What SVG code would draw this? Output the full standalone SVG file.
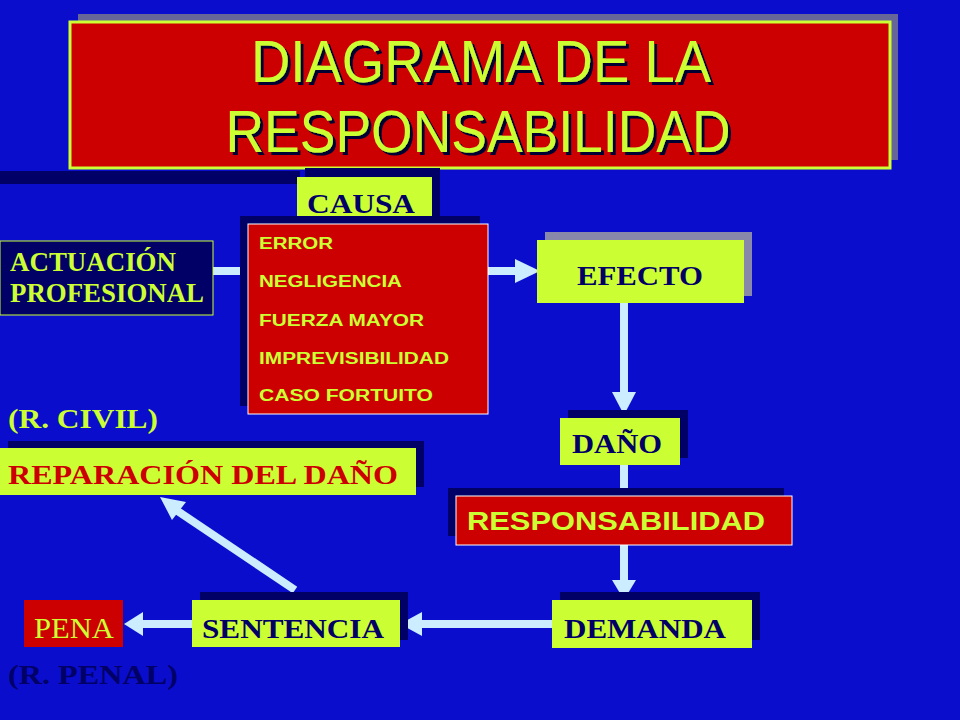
<svg xmlns="http://www.w3.org/2000/svg" width="960" height="720" viewBox="0 0 960 720">
<defs>
<filter id="ds" x="-5%" y="-5%" width="110%" height="120%"><feDropShadow dx="3" dy="3" stdDeviation="0.5" flood-color="#000033"/></filter>
<style>
.sh{fill:#000066}
.gr{fill:#ccff33}
.rd{fill:#cc0000;stroke:#ffffff;stroke-width:1}
.ser{font-family:"Liberation Serif",serif;font-weight:bold;font-size:28px}
.nav{fill:#000066}
.sans{font-family:"Liberation Sans",Arial,sans-serif;font-weight:bold}
.con{stroke:#ccecff;stroke-width:8;fill:none}
.hd{fill:#ccecff}
</style>
</defs>
<rect width="960" height="720" fill="#0a0ecc"/>
<g id="title">
<rect x="78" y="14" width="820" height="146" fill="#666699"/>
<rect x="70" y="22" width="820" height="146" fill="#cc0000" stroke="#ccff33" stroke-width="3"/>
<g font-family="Liberation Sans,Arial,sans-serif" font-size="60" text-anchor="middle" fill="#ccff33" filter="url(#ds)">
<text x="481" y="82" textLength="460" lengthAdjust="spacingAndGlyphs">DIAGRAMA DE LA</text>
<text x="478" y="152" textLength="505" lengthAdjust="spacingAndGlyphs">RESPONSABILIDAD</text>
</g>
</g>
<rect x="0" y="171" width="300" height="13" class="sh"/>
<g id="connectors">
<line x1="213" y1="271" x2="248" y2="271" class="con"/>
<line x1="488" y1="271" x2="518" y2="271" class="con"/>
<polygon points="515,259 540,271 515,283" class="hd"/>
<line x1="624" y1="303" x2="624" y2="395" class="con"/>
<polygon points="612,392 624,415 636,392" class="hd"/>
<line x1="624" y1="465" x2="624" y2="496" class="con"/>
<line x1="624" y1="545" x2="624" y2="582" class="con"/>
<polygon points="612,580 624,600 636,580" class="hd"/>
<line x1="552" y1="624" x2="418" y2="624" class="con"/>
<polygon points="422,612 400,624 422,636" class="hd"/>
<line x1="192" y1="624" x2="140" y2="624" class="con"/>
<polygon points="143,612 124,624 143,636" class="hd"/>
<line x1="295" y1="590" x2="176" y2="510" class="con"/>
<polygon points="160,497 186,502 172,520" class="hd"/>
</g>
<g id="causa">
<rect x="305" y="168" width="135" height="48" class="sh"/>
<rect x="297" y="177" width="135" height="40" class="gr"/>
<text x="307" y="213" class="ser nav" font-size="30" textLength="108" lengthAdjust="spacingAndGlyphs">CAUSA</text>
</g>
<g id="actuacion">
<rect x="0" y="241" width="213" height="74" fill="#000066" stroke="#ccff33" stroke-width="1"/>
<text x="10" y="271" class="ser" font-size="24" fill="#ccff33" textLength="166" lengthAdjust="spacingAndGlyphs">ACTUACIÓN</text>
<text x="10" y="302" class="ser" font-size="24" fill="#ccff33" textLength="194" lengthAdjust="spacingAndGlyphs">PROFESIONAL</text>
</g>
<g id="causas">
<rect x="240" y="216" width="240" height="190" class="sh"/>
<rect x="248" y="224" width="240" height="190" class="rd"/>
<g class="sans" font-size="16" fill="#ccff33">
<text x="259" y="249" textLength="74" lengthAdjust="spacingAndGlyphs">ERROR</text>
<text x="259" y="287" textLength="143" lengthAdjust="spacingAndGlyphs">NEGLIGENCIA</text>
<text x="259" y="326" textLength="165" lengthAdjust="spacingAndGlyphs">FUERZA MAYOR</text>
<text x="259" y="364" textLength="190" lengthAdjust="spacingAndGlyphs">IMPREVISIBILIDAD</text>
<text x="259" y="401" textLength="174" lengthAdjust="spacingAndGlyphs">CASO FORTUITO</text>
</g>
</g>
<g id="efecto">
<rect x="545" y="232" width="207" height="64" fill="#8888aa"/>
<rect x="537" y="240" width="207" height="63" class="gr"/>
<text x="577" y="285" class="ser nav" textLength="126" lengthAdjust="spacingAndGlyphs">EFECTO</text>
</g>
<g id="dano">
<rect x="568" y="410" width="120" height="48" class="sh"/>
<rect x="560" y="418" width="120" height="47" class="gr"/>
<text x="572" y="453" class="ser nav" font-size="30" textLength="90" lengthAdjust="spacingAndGlyphs">DAÑO</text>
</g>
<g id="responsabilidad">
<rect x="448" y="488" width="336" height="48" class="sh"/>
<rect x="456" y="496" width="336" height="49" class="rd"/>
<text x="467" y="530" class="sans" font-size="25" fill="#ccff33" textLength="298" lengthAdjust="spacingAndGlyphs">RESPONSABILIDAD</text>
</g>
<g id="demanda">
<rect x="560" y="592" width="200" height="48" class="sh"/>
<rect x="552" y="600" width="200" height="48" class="gr"/>
<text x="564" y="638" class="ser nav" font-size="30" textLength="162" lengthAdjust="spacingAndGlyphs">DEMANDA</text>
</g>
<g id="sentencia">
<rect x="200" y="592" width="208" height="48" class="sh"/>
<rect x="192" y="600" width="208" height="47" class="gr"/>
<text x="202" y="638" class="ser nav" font-size="30" textLength="182" lengthAdjust="spacingAndGlyphs">SENTENCIA</text>
</g>
<g id="pena">
<rect x="24" y="600" width="99" height="47" fill="#cc0000"/>
<text x="34" y="638" font-family="Liberation Serif,serif" font-size="29" fill="#ccff33" textLength="80" lengthAdjust="spacingAndGlyphs">PENA</text>
</g>
<g id="reparacion">
<rect x="8" y="441" width="416" height="46" class="sh"/>
<rect x="0" y="448" width="416" height="47" class="gr"/>
<text x="8" y="484" class="ser" font-size="30" fill="#cc0000" textLength="390" lengthAdjust="spacingAndGlyphs">REPARACIÓN DEL DAÑO</text>
</g>
<text x="8" y="428" class="ser" font-size="30" fill="#ccff33" textLength="150" lengthAdjust="spacingAndGlyphs">(R. CIVIL)</text>
<text x="8" y="684" class="ser nav" font-size="30" textLength="170" lengthAdjust="spacingAndGlyphs">(R. PENAL)</text>
</svg>
